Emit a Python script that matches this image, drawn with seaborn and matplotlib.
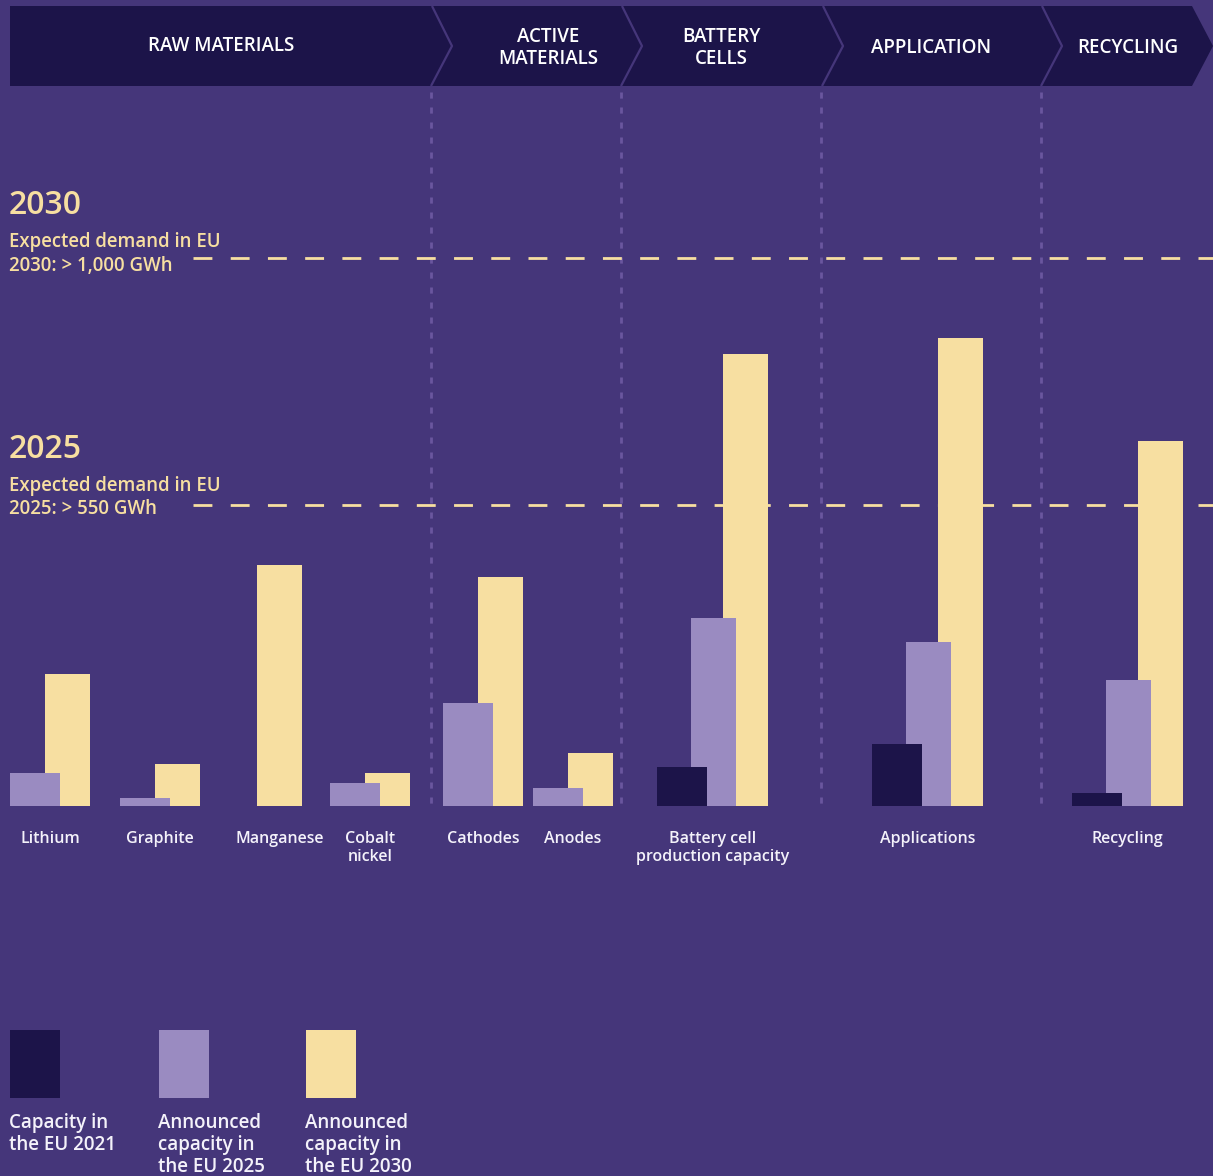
import matplotlib.pyplot as plt
import numpy as np
import seaborn as sns
from matplotlib.patches import Polygon, Rectangle

# battery value chain capacity in the EU (GWh)
categories = ["Lithium", "Graphite", "Manganese", "Cobalt\nnickel", "Cathodes", "Anodes",
              "Battery cell\nproduction capacity", "Applications", "Recycling"]
cap_2021 = [np.nan, np.nan, np.nan, np.nan, np.nan, np.nan, 71, 113, 24]
cap_2025 = [60, 14, 0, 42, 188, 33, 343, 299, 230]
cap_2030 = [241, 77, 440, 60, 418, 97, 825, 854, 666]
series_labels = ["Capacity in\nthe EU 2021", "Announced\ncapacity in\nthe EU 2025",
                 "Announced\ncapacity in\nthe EU 2030"]
demand_2025 = 550
demand_2030 = 1000
stages = ["RAW MATERIALS", "ACTIVE\nMATERIALS", "BATTERY\nCELLS", "APPLICATION", "RECYCLING"]

# layout (pixels)
W, H = 1213, 1176
BASE_Y = 806
PX_PER_GWH = 0.548
group_left = [10, 120, 222, 330, 443, 533, 657, 872, 1072]
slot_offsets = {2: [0, 35], 3: [0, 34, 66]}
stage_edges = [432, 622, 823, 1042, 1192]
stage_centers = [221, 548, 721, 931, 1128]
stage_y = [46, 48, 48, 48, 48]

BG = "#45367a"
NAVY = "#1c1449"
LAV = "#9a8bc1"
YEL = "#f7dfa1"
DIV = "#6a569e"
WHITE = "#f4f2fa"

sns.set_theme(style="white")
plt.rcParams["font.family"] = ["Open Sans", "DejaVu Sans"]

fig = plt.figure(figsize=(W / 100, H / 100), dpi=100, facecolor=BG)

deco = fig.add_axes([0, 0, 1, 1])
deco.set_xlim(0, W)
deco.set_ylim(H, 0)
deco.axis("off")
deco.set_facecolor(BG)

ax = fig.add_axes([0, (H - BASE_Y) / H, 1, PX_PER_GWH * demand_2030 / H])
ax.set_xlim(0, W)
ax.set_ylim(0, demand_2030)
ax.axis("off")
ax.patch.set_alpha(0)

# header chevron band
top, bot, mid = 6, 86, 46
deco.add_patch(Polygon([(10, top), (stage_edges[-1], top), (W, mid), (stage_edges[-1], bot), (10, bot)],
                       closed=True, fc=NAVY, ec="none", zorder=1))
for e in stage_edges[:-1]:
    deco.plot([e, e + 20, e - 1], [top, mid, bot], color=BG, lw=1.6, zorder=2, solid_capstyle="butt")
for name, cx, cy in zip(stages, stage_centers, stage_y):
    deco.text(cx, cy, name, color="white", fontsize=13.5, fontweight="semibold",
              ha="center", va="center", linespacing=1.2, zorder=3)

# stage dividers
for e in stage_edges[:-1]:
    x = e - 1 if e != 823 else 821
    deco.plot([x, x], [92, BASE_Y], color=DIV, lw=2, ls=(0, (2.2, 3.2)), zorder=0)

# demand lines
for val, yr, txt, dy in [(demand_2030, "2030", "Expected demand in EU\n2030: > 1,000 GWh", 0),
                         (demand_2025, "2025", "Expected demand in EU\n2025: > 550 GWh", -3)]:
    ax.plot([193, W], [val, val], color=YEL, lw=2, ls=(0, (6.8, 6.6)), zorder=1, clip_on=False)
    ypx = BASE_Y - val * PX_PER_GWH
    deco.text(9, ypx - 52 + dy, yr, color=YEL, fontsize=23, fontweight="semibold", ha="left", va="center")
    deco.text(9, ypx - 4 + dy, txt, color=YEL, fontsize=13.4, fontweight="semibold", ha="left",
              va="center", linespacing=1.2)

# bars: yellow behind, lavender, navy in front
colors = [NAVY, LAV, YEL]
for i, cat in enumerate(categories):
    vals = [cap_2021[i], cap_2025[i], cap_2030[i]]
    present = [s for s, v in enumerate(vals) if not np.isnan(v)]
    offs = slot_offsets[len(present)]
    lefts = {s: group_left[i] + offs[k] for k, s in enumerate(present)}
    widths = {s: (50 if k == 0 else 45) for k, s in enumerate(present)}
    drawn = [s for s in present if vals[s] > 0]
    for s in sorted(drawn, reverse=True):
        ax.bar(lefts[s], vals[s], width=widths[s], align="edge", color=colors[s],
               edgecolor="none", zorder=3 + (2 - s))
    cx = (min(lefts[s] for s in drawn) + max(lefts[s] + widths[s] for s in drawn)) / 2
    deco.text(cx, 831, cat, color=WHITE, fontsize=11.5, fontweight="semibold",
              ha="center", va="top", linespacing=1.2)

# legend
for x0, col, lab in zip([10, 159, 306], colors, series_labels):
    deco.add_patch(Rectangle((x0, 1030), 50, 68, fc=col, ec="none"))
    deco.text(x0 - 1, 1113, lab, color=WHITE, fontsize=13.5, fontweight="semibold",
              ha="left", va="top", linespacing=1.12)

fig.savefig("out.png", dpi=100, facecolor=BG)
